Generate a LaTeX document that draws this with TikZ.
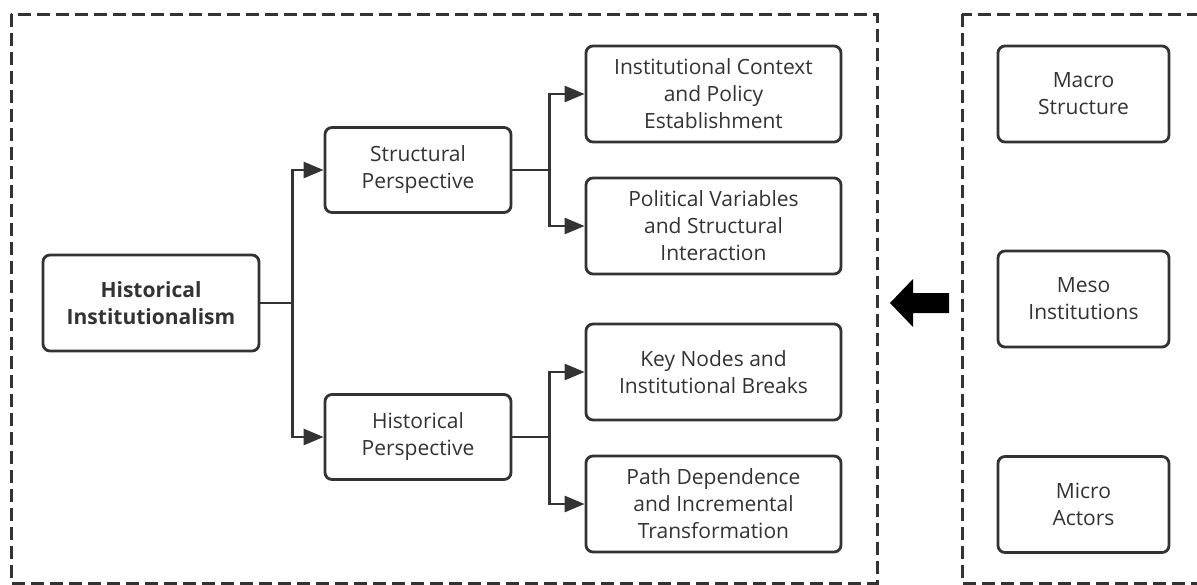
\documentclass[tikz,border=0pt]{standalone}
\usepackage{fontspec}
\setmainfont{Open Sans}
\usepackage{tikz}
\usetikzlibrary{positioning,arrows.meta}

\definecolor{ink}{HTML}{333333}

\tikzset{
  box/.style={draw=ink, line width=2.8pt, rounded corners=7pt, text=ink, align=center,
    font=\fontsize{21}{27}\selectfont, inner sep=2pt},
  widebox/.style={box, minimum width=255pt, minimum height=96pt},
  midbox/.style={box, minimum width=186pt, minimum height=85pt},
  sidebox/.style={box, minimum width=171pt, minimum height=96pt},
  conn/.style={draw=ink, line width=2.8pt, -{Triangle[length=20pt,width=16pt]}},
  frame/.style={draw=ink, line width=3pt, dash pattern=on 13pt off 6pt}
}

\begin{document}
\begin{tikzpicture}[x=1pt,y=-1pt,node distance=2cm,on grid]
    \clip (0,0) rectangle (1197,584);
    \fill[white] (0,0) rectangle (1197,584);

    % dashed frames
    \draw[frame] (11,14) rectangle (877,583);
    \draw[frame] (962,14) rectangle (1215,583);

    \node[box, minimum width=216pt, minimum height=96pt, font=\fontsize{21}{27}\selectfont\bfseries] (hi) at (151,303) {Historical\\Institutionalism};
    \node[midbox] (sp) [above right=133pt and 267pt of hi] {Structural\\Perspective};
    \node[midbox] (hp) [below right=134pt and 267pt of hi] {Historical\\Perspective};
    \node[widebox] (ic) [above right=76pt and 295.5pt of sp] {Institutional Context\\and Policy\\Establishment};
    \node[widebox] (pv) [below right=56pt and 295.5pt of sp] {Political Variables\\and Structural\\Interaction};
    \node[widebox] (kn) [above right=65pt and 295.5pt of hp] {Key Nodes and\\Institutional Breaks};
    \node[widebox] (pd) [below right=67pt and 295.5pt of hp] {Path Dependence\\and Incremental\\Transformation};

    \node[sidebox] (macro) [right=370pt of ic] {Macro\\Structure};
    \node[sidebox] (meso) [below=205pt of macro] {Meso\\Institutions};
    \node[sidebox] (micro) [below=205.5pt of meso] {Micro\\Actors};

    \draw[conn] (hi.east) -- ++(32,0) coordinate (j1) |- (sp.west);
    \draw[conn] (j1) |- (hp.west);
    \draw[conn] (sp.east) -- ++(37,0) coordinate (j2) |- (ic.west);
    \draw[conn] (j2) |- (pv.west);
    \draw[conn] (hp.east) -- ++(37,0) coordinate (j3) |- (kn.west);
    \draw[conn] (j3) |- (pd.west);

    % big arrow
    \fill[black] (890,303) -- (913,279) -- (913,293) -- (949,293)
      -- (949,313) -- (913,313) -- (913,327) -- cycle;
\end{tikzpicture}
\end{document}
